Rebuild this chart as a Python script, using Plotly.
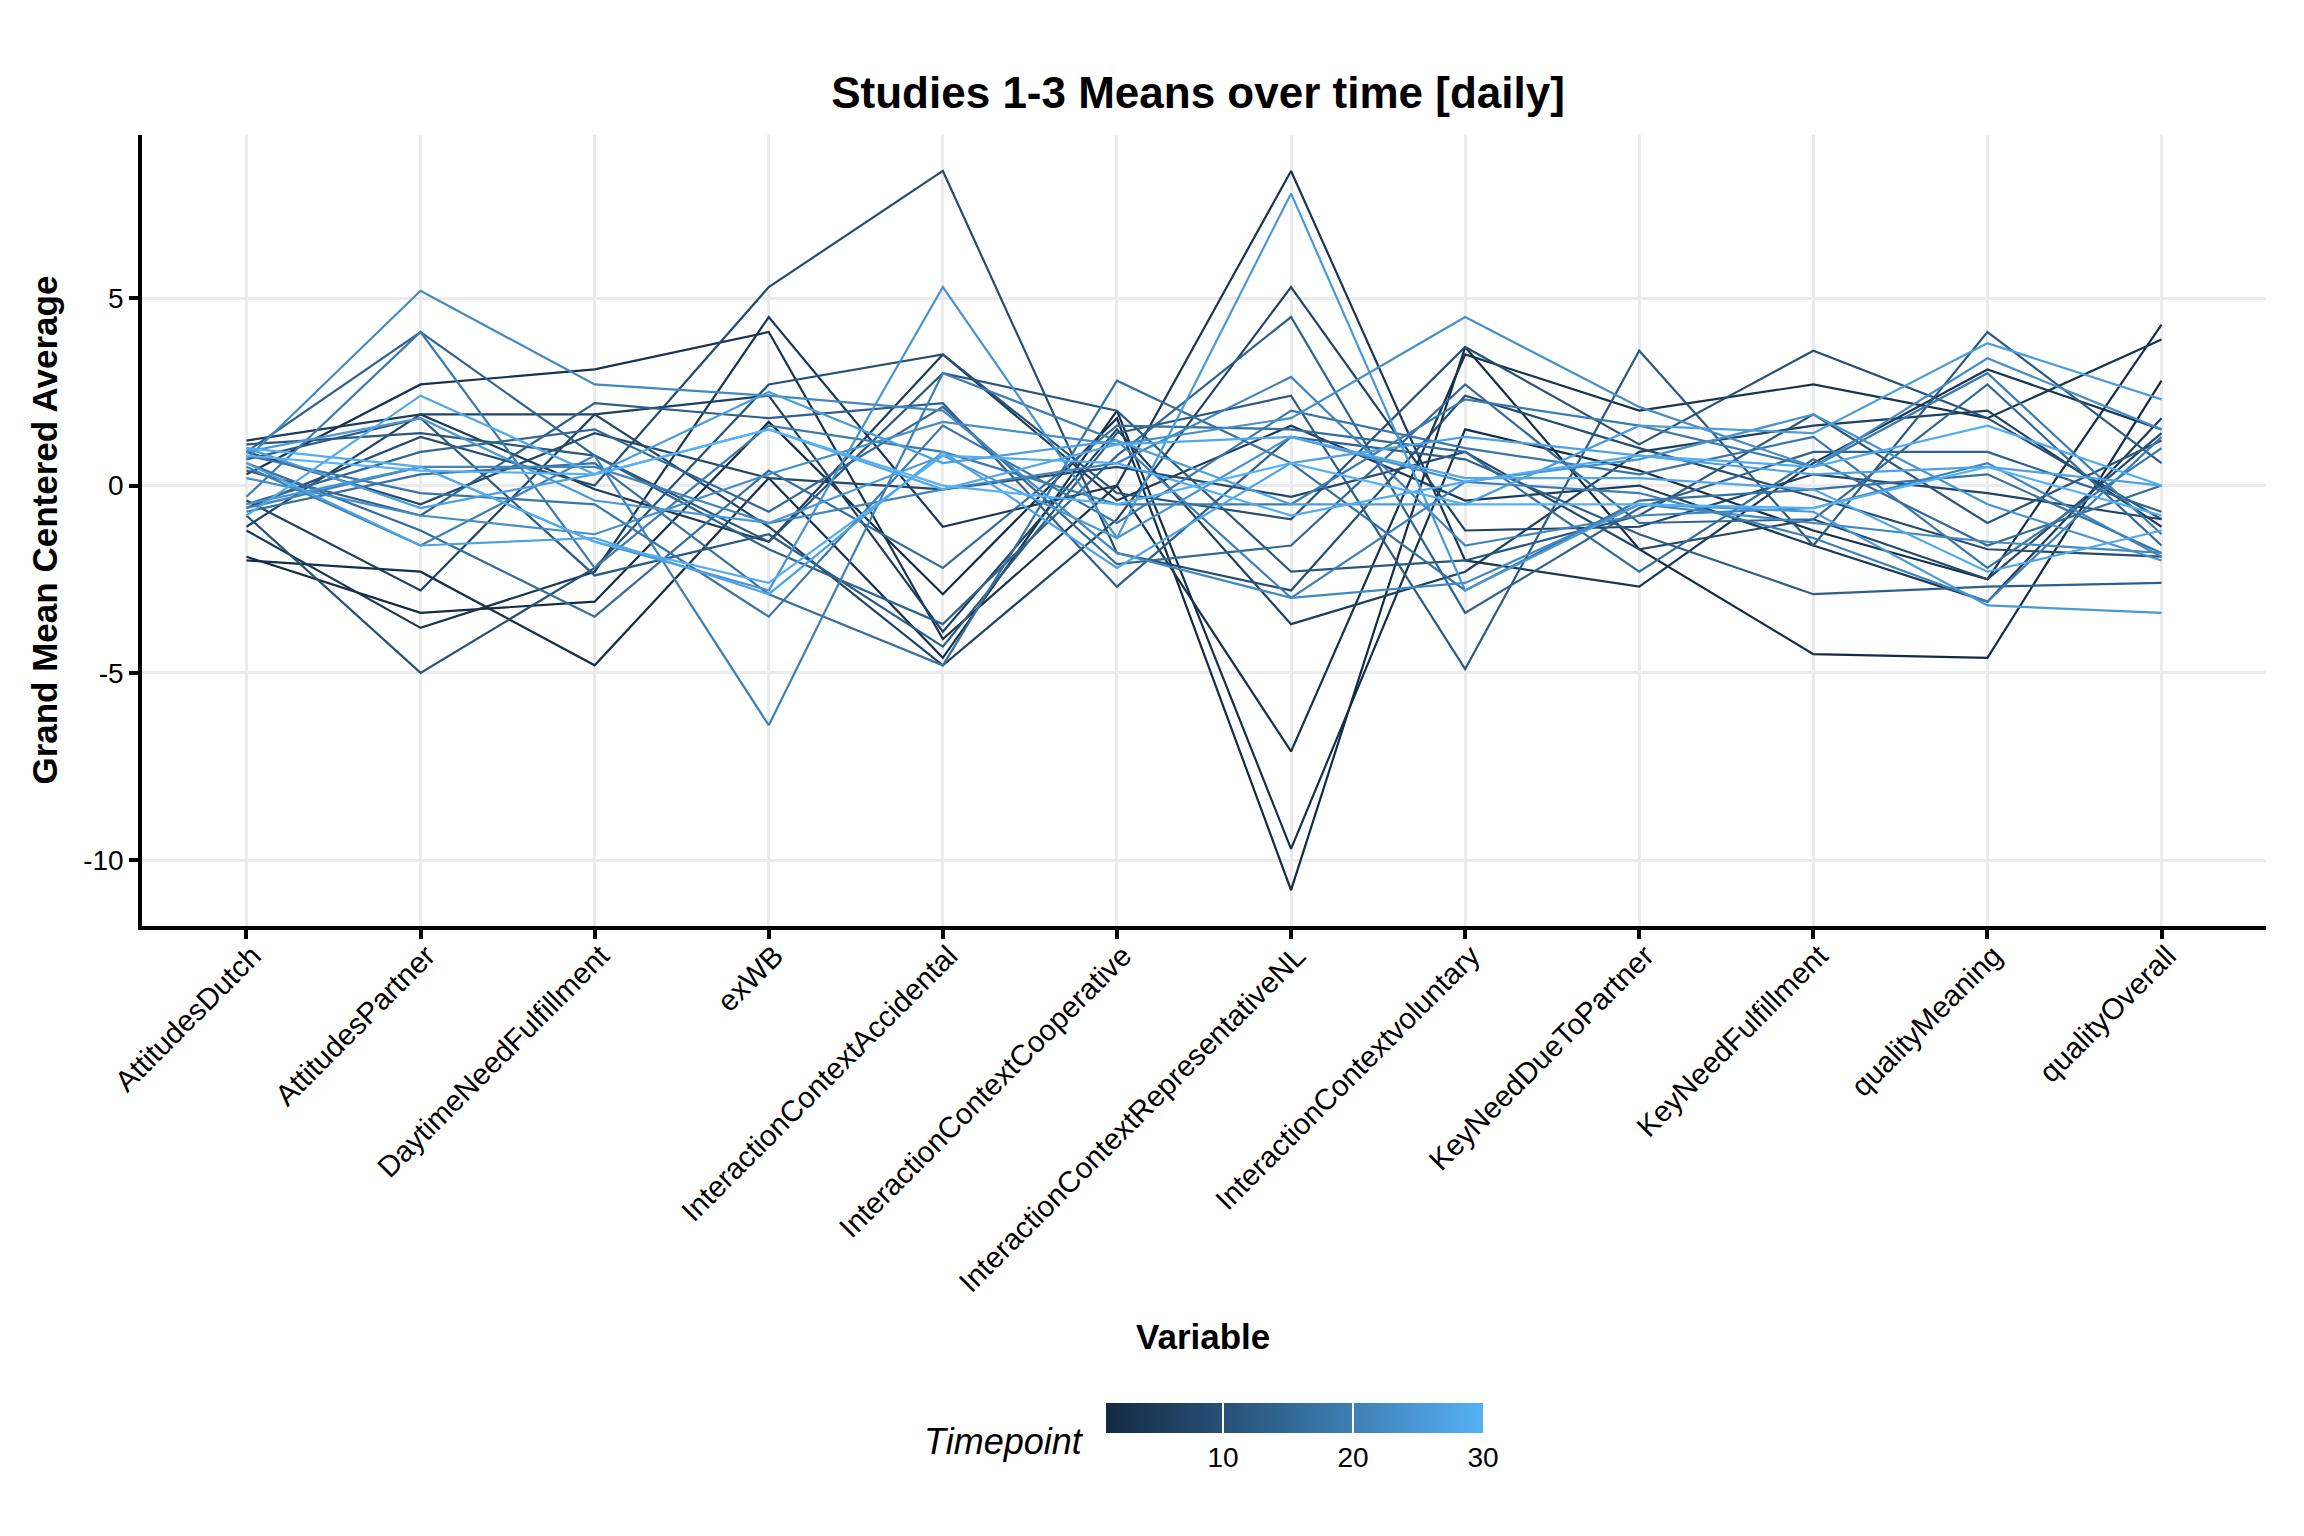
import plotly.graph_objects as go

# ---------------- data ----------------
variables = ["AttitudesDutch", "AttitudesPartner", "DaytimeNeedFulfillment", "exWB",
             "InteractionContextAccidental", "InteractionContextCooperative",
             "InteractionContextRepresentativeNL", "InteractionContextvoluntary",
             "KeyNeedDueToPartner", "KeyNeedFulfillment", "qualityMeaning", "qualityOverall"]
timepoints = list(range(1, 31))

attitudes_dutch = [-1.9, -2.0, 0.3, -1.2, 1.2, -0.4, -1.1, 0.9, -0.6, -0.8, 1.1, 0.7, 0.4, 0.9, -0.5,
                   0.6, -0.7, 0.8, -0.3, 0.5, -0.6, 0.7, 0.2, -0.5, 0.9, 1.0, 0.6, -0.8, 1.0, 0.8]
attitudes_partner = [-3.4, -2.3, 2.7, -3.8, 1.9, -2.8, 1.9, -0.5, 1.3, -5.0, 1.4, 1.8, -0.8, 4.1, 0.9,
                     -1.2, 0.3, -0.2, 4.1, -1.6, 0.5, 5.2, -0.8, 0.5, 1.8, -0.6, -1.6, 2.4, 0.5, 0.4]
daytime_need = [-3.1, -4.8, 3.1, -2.3, -0.1, 1.9, 1.9, 1.4, 0.0, -2.2, 0.8, -2.4, 2.2, 0.8, 1.5,
                -3.5, 0.6, -0.5, -2.2, 0.8, 0.5, 2.7, -1.3, -1.5, -0.4, 0.3, -1.4, 0.3, -1.5, 0.3]
ex_wb = [1.7, 0.2, 4.1, 4.5, -1.5, 2.4, -1.1, 0.2, 5.3, 2.7, -1.5, -1.3, 1.8, -1.7, -0.7,
         0.4, -2.9, -3.5, 1.6, -6.4, -1.0, 2.4, 0.3, -2.8, -1.0, 2.5, -2.9, 1.5, -2.6, 1.5]
ctx_accidental = [-2.9, -4.6, -4.1, -1.1, 3.5, -3.9, -4.8, -0.1, 8.4, 3.5, 3.0, -4.3, 2.2, -3.7, 2.1,
                  -2.2, -4.8, 1.6, 0.9, 3.0, -0.1, 2.0, 1.7, 5.3, 0.8, 0.6, 0.9, -0.1, 0.8, 0.0]
ctx_cooperative = [1.8, 2.0, 0.0, 0.0, -0.4, 1.5, -0.9, 0.5, -1.8, -0.2, 2.0, 1.4, -2.7, 0.8, -2.1,
                   1.6, 2.8, -1.0, -0.5, 1.2, 0.6, -1.8, 1.1, -1.4, -1.4, 1.2, -2.2, 1.1, 0.6, -0.5]
ctx_representative = [-10.8, -9.7, -7.1, 8.4, 1.6, -3.7, 5.3, -0.3, -2.8, -0.9, -2.3, 2.4, 1.3, 4.5, -1.6,
                      1.5, 0.6, 2.0, -0.5, -3.0, 2.9, -3.0, 1.8, 1.3, 7.8, -0.5, 0.6, 1.3, -0.8, 0.6]
ctx_voluntary = [3.7, 1.5, 3.5, -2.0, -0.4, -2.3, -1.2, 0.9, 2.4, 3.7, -2.0, -4.9, 0.7, -3.4, 2.7,
                 0.9, -2.8, 1.0, 2.3, 0.1, -1.6, -2.6, 4.5, 0.1, -2.8, -0.5, 1.3, 0.2, 0.1, -0.5]
key_need_due = [-1.7, 0.4, 2.0, -2.7, 0.0, 0.9, -1.1, -1.7, 1.0, 1.1, -0.8, 3.6, -1.3, -0.6, -1.0,
                -2.3, -0.4, 0.3, 1.6, -0.2, -0.8, -0.5, 2.1, 0.7, -0.5, 1.6, 0.8, 0.2, 0.8, -0.5]
key_need_fulfillment = [-4.5, -1.2, 2.7, 0.6, -1.6, 1.6, 0.3, -0.9, -0.3, 3.6, 1.9, -1.6, -2.9, 0.9, -0.9,
                        0.7, -0.1, 1.3, 0.5, -1.4, -0.6, -1.0, 0.5, 1.9, -0.7, 1.4, 0.3, -0.1, 0.5, -0.6]
quality_meaning = [-4.6, -2.5, 1.8, 3.1, -3.1, 2.0, -0.2, -2.5, -1.7, 1.8, -1.0, 4.1, -2.7, 0.9, 2.7,
                   -1.6, 0.3, -2.2, 3.0, -3.1, 0.6, -1.5, 3.4, -0.5, -3.2, 3.8, 0.5, -2.3, 1.6, 0.5]
quality_overall = [2.8, 4.3, 3.9, 1.5, 1.8, -1.1, -0.9, 1.4, -1.9, -0.9, 1.2, 0.6, -2.6, -0.7, -1.6,
                   0.0, -1.8, 1.0, -1.3, 1.3, -1.9, -1.8, 1.5, -2.0, -3.4, 2.3, 0.0, -1.2, 0.0, -0.8]

y_tick_vals = [-10, -5, 0, 5]
y_tick_text = ["-10", "-5", "0", "5"]
colorbar_ticks = [10, 20, 30]

columns = [attitudes_dutch, attitudes_partner, daytime_need, ex_wb, ctx_accidental, ctx_cooperative,
           ctx_representative, ctx_voluntary, key_need_due, key_need_fulfillment, quality_meaning,
           quality_overall]

# ---------------- colour (ggplot-like Lab gradient) ----------------
LOW, HIGH = "#132B43", "#56B1F7"
XN, YN, ZN = 0.95047, 1.0, 1.08883


def hex_to_lab(h):
    r, g, b = [int(h[i:i + 2], 16) / 255 for i in (1, 3, 5)]
    lin = lambda c: c / 12.92 if c <= 0.04045 else ((c + 0.055) / 1.055) ** 2.4
    r, g, b = lin(r), lin(g), lin(b)
    X = 0.4124564 * r + 0.3575761 * g + 0.1804375 * b
    Y = 0.2126729 * r + 0.7151522 * g + 0.0721750 * b
    Z = 0.0193339 * r + 0.1191920 * g + 0.9503041 * b
    f = lambda t: t ** (1 / 3) if t > 0.008856 else 7.787 * t + 16 / 116
    fx, fy, fz = f(X / XN), f(Y / YN), f(Z / ZN)
    return (116 * fy - 16, 500 * (fx - fy), 200 * (fy - fz))


def lab_to_hex(L, a, b):
    fy = (L + 16) / 116
    fx = fy + a / 500
    fz = fy - b / 200
    finv = lambda t: t ** 3 if t ** 3 > 0.008856 else (t - 16 / 116) / 7.787
    X, Y, Z = finv(fx) * XN, finv(fy) * YN, finv(fz) * ZN
    r = 3.2404542 * X - 1.5371385 * Y - 0.4985314 * Z
    g = -0.9692660 * X + 1.8760108 * Y + 0.0415560 * Z
    bb = 0.0556434 * X - 0.2040259 * Y + 1.0572252 * Z
    gam = lambda c: 12.92 * c if c <= 0.0031308 else 1.055 * c ** (1 / 2.4) - 0.055
    out = []
    for c in (r, g, bb):
        v = min(1, max(0, gam(c)))
        out.append(int(round(v * 255)))
    return "#%02x%02x%02x" % tuple(out)


LAB_LOW, LAB_HIGH = hex_to_lab(LOW), hex_to_lab(HIGH)


def grad(t):
    return lab_to_hex(*[lo + (hi - lo) * t for lo, hi in zip(LAB_LOW, LAB_HIGH)])


tmin, tmax = min(timepoints), max(timepoints)
colorscale = [[i / 20, grad(i / 20)] for i in range(21)]

# ---------------- figure ----------------
FONT = "Liberation Sans, Arial, sans-serif"
fig = go.Figure()

for k, tp in enumerate(timepoints):
    fig.add_trace(go.Scatter(
        x=variables, y=[col[k] for col in columns], mode="lines",
        line=dict(color=grad((tp - tmin) / (tmax - tmin)), width=2.2),
        hoverinfo="skip", showlegend=False))

# colour bar carrier
fig.add_trace(go.Scatter(
    x=[None], y=[None], mode="markers", showlegend=False, hoverinfo="skip",
    marker=dict(color=[tmin, tmax], cmin=tmin, cmax=tmax, colorscale=colorscale, showscale=True,
                colorbar=dict(orientation="h", x=0.5426, xanchor="center", y=-0.603, yanchor="top",
                              len=0.1775, lenmode="fraction", thickness=30, outlinewidth=0,
                              xpad=0, ypad=0, tickvals=colorbar_ticks, ticks="inside", ticklen=30,
                              tickcolor="white", tickwidth=1.5,
                              tickfont=dict(family=FONT, size=28, color="black"),
                              title=dict(text="")))))

fig.update_layout(
    width=2304, height=1536, autosize=False,
    margin=dict(l=134, r=46, t=127, b=618),
    plot_bgcolor="white", paper_bgcolor="white",
    font=dict(family=FONT, color="black"),
    showlegend=False,
    title=dict(text="<b>Studies 1-3 Means over time [daily]</b>", x=0.5165, xanchor="center",
               y=0.945, yanchor="middle", font=dict(size=44, color="black", family=FONT)),
    xaxis=dict(type="category", range=[-0.6, 11.6], showgrid=True, gridcolor="#EBEBEB", gridwidth=3,
               showline=True, linecolor="black", linewidth=3.5, ticks="outside", ticklen=9,
               tickcolor="black", tickwidth=3.5, tickangle=-45,
               tickfont=dict(size=29.5, color="black", family=FONT), zeroline=False, automargin=False),
    yaxis=dict(range=[-11.76, 9.36], tickvals=y_tick_vals, ticktext=y_tick_text, showgrid=True,
               gridcolor="#EBEBEB", gridwidth=3, showline=True, linecolor="black", linewidth=3.5,
               ticks="outside", ticklen=9, tickcolor="black", tickwidth=3.5, zeroline=False,
               tickfont=dict(size=28, color="black", family=FONT), automargin=False),
    annotations=[
        dict(text="<b>Grand Mean Centered Average</b>", xref="paper", yref="paper", x=-0.0461, y=0.5,
             xanchor="center", yanchor="middle", textangle=-90, showarrow=False,
             font=dict(size=35, color="black", family=FONT)),
        dict(text="<b>Variable</b>", xref="paper", yref="paper", x=0.4994, y=-0.5192,
             xanchor="center", yanchor="middle", showarrow=False,
             font=dict(size=35, color="black", family=FONT)),
        dict(text="<i>Timepoint</i>", xref="paper", yref="paper", x=0.4444, y=-0.652,
             xanchor="right", yanchor="middle", showarrow=False,
             font=dict(size=36, color="black", family=FONT)),
    ],
)

# pull the rotated category labels a little closer to the axis, like the reference
try:
    fig.update_xaxes(ticklabelstandoff=-12, ticklabelshift=6)
except Exception:
    pass

fig.write_html("out.html")
